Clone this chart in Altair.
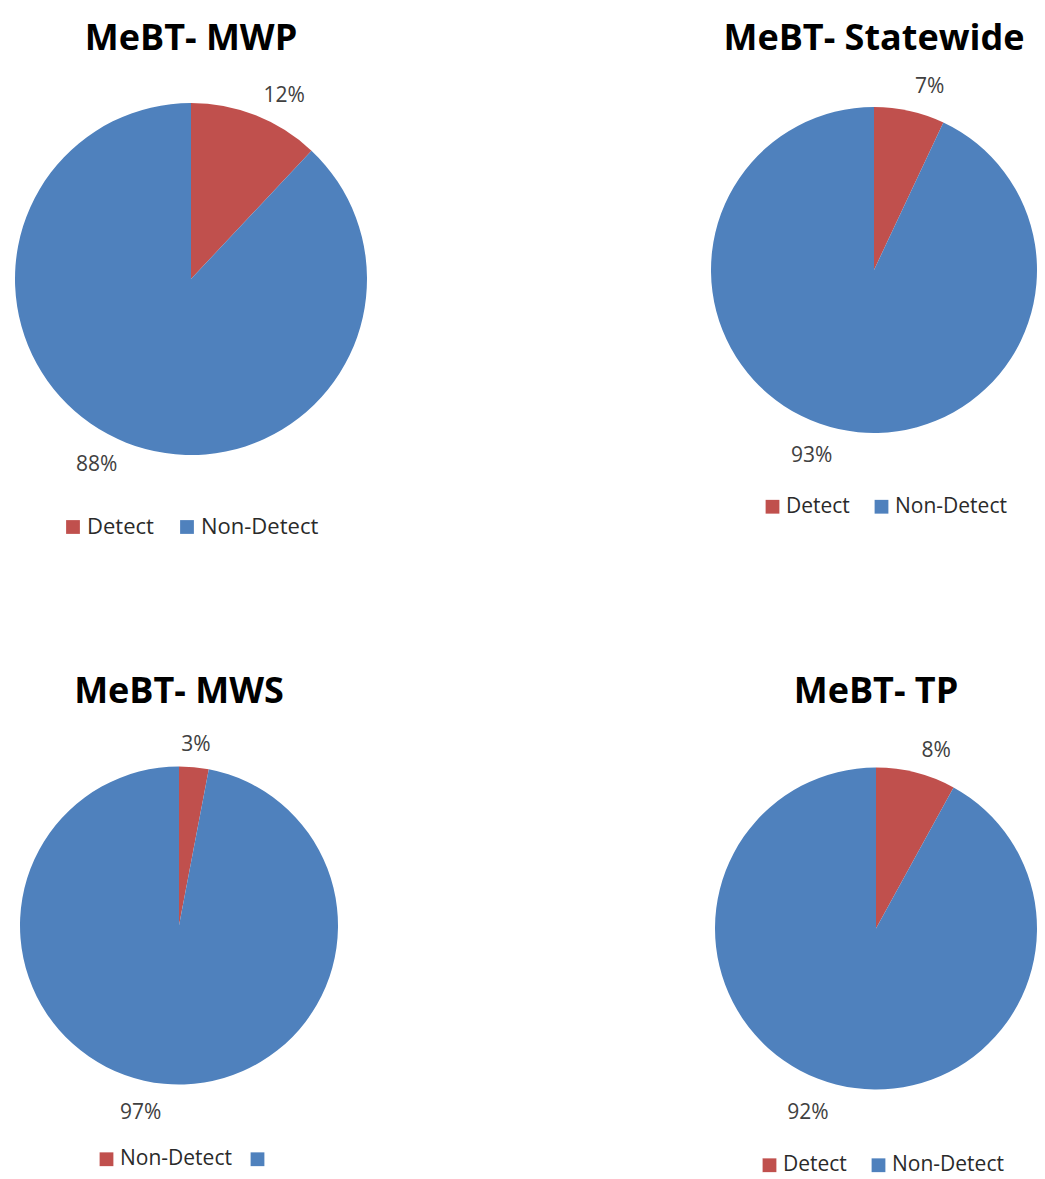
import altair as alt
import pandas as pd

# ---- data ----
titles = ["MeBT- MWP", "MeBT- Statewide", "MeBT- MWS", "MeBT- TP"]
categories = ["Detect", "Non-Detect"]
detect_pct = [12, 7, 3, 8]
non_detect_pct = [88, 93, 97, 92]
# legend text as shown in each panel (the MWS panel shows a shifted legend)
legend_labels = [
    ["Detect", "Non-Detect"],
    ["Detect", "Non-Detect"],
    ["Non-Detect", ""],
    ["Detect", "Non-Detect"],
]
colors = ["#C0504D", "#4F81BD"]

FONT = "Open Sans"


def panel(i, w, h, r, label_r, title_offset, leg_x, leg_y,
          leg_font=21, col_pad=21, small_align="left"):
    df = pd.DataFrame({
        "category": categories,
        "value": [detect_pct[i], non_detect_pct[i]],
        "label": [f"{detect_pct[i]}%", f"{non_detect_pct[i]}%"],
        "order": [0, 1],
    })
    labs = legend_labels[i]
    label_expr = (
        f"datum.label == '{categories[0]}' ? '{labs[0]}' : '{labs[1]}'"
    )
    legend = alt.Legend(
        orient="none",
        legendX=leg_x,
        legendY=leg_y,
        direction="horizontal",
        title=None,
        symbolType="square",
        symbolSize=190,
        symbolStrokeWidth=0,
        labelFontSize=leg_font,
        labelFont=FONT,
        labelColor="#2a2a2a",
        columnPadding=col_pad,
        labelOffset=3,
        padding=0,
        labelExpr=label_expr,
    )
    theta_scale = alt.Scale(domain=[0, 100])
    arc = alt.Chart(df).mark_arc(outerRadius=r).encode(
        theta=alt.Theta("value:Q", stack=True, scale=theta_scale),
        order=alt.Order("order:Q"),
        color=alt.Color(
            "category:N",
            scale=alt.Scale(domain=categories, range=colors),
            legend=legend,
        ),
    )
    lab = (
        alt.Chart(df)
        .transform_window(cum="sum(value)", sort=[alt.SortField("order")])
        .transform_calculate(mid="datum.cum - datum.value / 2")
    )
    text_kw = dict(fontSize=21, font=FONT, color="#404040", baseline="middle")
    enc = dict(
        theta=alt.Theta("mid:Q", stack=None, scale=theta_scale),
        text="label:N",
    )
    # first slice label sits right of the pie, second slice label left of it
    t_right = lab.transform_filter("datum.order == 0").mark_text(
        align=small_align, radius=label_r[0], **text_kw).encode(**enc)
    t_left = lab.transform_filter("datum.order == 1").mark_text(
        align="right", radius=label_r[1], **text_kw).encode(**enc)
    return alt.layer(arc, t_right, t_left).properties(
        width=w,
        height=h,
        title=alt.Title(
            titles[i],
            fontSize=36,
            font=FONT,
            fontWeight="bold",
            color="#000000",
            anchor="middle",
            offset=title_offset,
        ),
    )


tl = panel(0, 366, 420, 176, (197, 200), 11, 54, 447, leg_font=22, col_pad=22)
tr = panel(1, 326, 402, 163, (188, 191), 11, 51, 427)
bl = panel(2, 342, 390, 159, (181, 188), 20, 88, 418, col_pad=15,
           small_align="center")
br = panel(3, 322, 396, 161, (183, 191), 20, 44, 424)

row1 = (
    alt.hconcat(tl, tr, spacing=337)
    .resolve_scale(color="independent", theta="independent")
    .resolve_legend(color="independent")
)
row2 = (
    alt.hconcat(bl, br, spacing=365)
    .resolve_scale(color="independent", theta="independent")
    .resolve_legend(color="independent")
)

chart = (
    alt.vconcat(row1, row2, spacing=135.5)
    .resolve_scale(color="independent", theta="independent")
    .resolve_legend(color="independent")
    .properties(
        padding={"top": 13, "left": 0, "right": 0, "bottom": 6},
        background="white",
    )
    .configure_view(stroke=None)
)

chart.save("out.html", embed_options={"renderer": "svg", "actions": False})
